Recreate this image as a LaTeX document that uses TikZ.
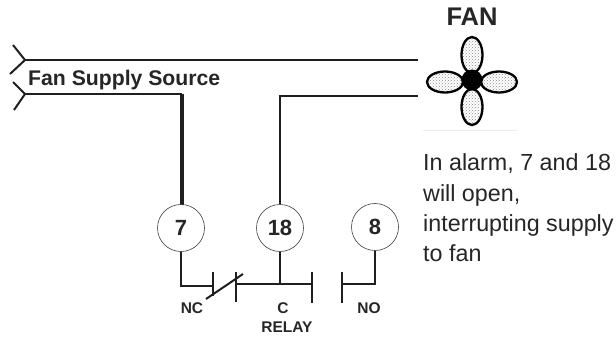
\documentclass[tikz,border=0pt]{standalone}
\usepackage{fontspec}
\setmainfont{Liberation Sans}
\usetikzlibrary{patterns}
\tikzset{
  wire/.style={line width=2pt,color=black!88},
  heavy/.style={line width=4pt,color=black!88},
  term/.style={circle,draw=black!75,line width=0.6pt,minimum size=47pt,inner sep=0pt,font=\bfseries\fontsize{22}{22}\selectfont,text=black!85},
  lab/.style={inner sep=0pt,font=\bfseries\fontsize{15.5}{15.5}\selectfont,text=black!85},
  petal/.style={draw=black,line width=2.3pt,pattern=crosshatch dots,pattern color=black!45},
  body/.style={inner sep=0pt,anchor=base west,font=\fontsize{23.3}{23.3}\selectfont,text=black!85}
}
\begin{document}
\begin{tikzpicture}[x=1pt,y=-1pt]
\useasboundingbox[fill=white] (0,0) rectangle (616,337);
% supply
\coordinate (a1) at (13,45); \coordinate (a2) at (25,60); \coordinate (a3) at (10,74);
\coordinate (a4) at (418,60);
\coordinate (b1) at (13,82); \coordinate (b2) at (25,94); \coordinate (b3) at (14,110);
\coordinate (b4) at (182,94); \coordinate (b5) at (182,205);
\draw[wire] (a1) -- (a2) -- (a3);
\draw[wire] (a2) -- (a4);
\draw[wire] (b1) -- (b2) -- (b3);
\draw[wire] (b2) -- (b4);
\draw[heavy] (b4) -- (b5);
\node[inner sep=0pt,anchor=base west,font=\bfseries\fontsize{21.2}{21.2}\selectfont,text=black!85] (src) at (28,85) {Fan Supply Source};
% terminals
\node[term] (t7) at (181,228) {7};
\node[term] (t18) at (280,228) {18};
\node[term] (t8) at (375,227) {8};
% wire to 18
\coordinate (c1) at (418,96); \coordinate (c2) at (280,96);
\draw[wire] (c1) -- (c2) -- (t18.north);
% relay
\coordinate (d1) at (181,286); \coordinate (d2) at (213,286);
\coordinate (e1) at (213,272); \coordinate (e2) at (213,296);
\coordinate (f1) at (236,272); \coordinate (f2) at (236,302);
\coordinate (s1) at (206,299); \coordinate (s2) at (243,274);
\coordinate (g1) at (236,284); \coordinate (g2) at (312,284); \coordinate (g3) at (280,284);
\coordinate (h1) at (312,272); \coordinate (h2) at (312,303);
\coordinate (i1) at (342,272); \coordinate (i2) at (342,303);
\coordinate (j1) at (342,284); \coordinate (j2) at (375,284);
\draw[wire] (t7.south) -- (d1) -- (d2);
\draw[wire] (e1) -- (e2);
\draw[wire] (f1) -- (f2);
\draw[wire] (s1) -- (s2);
\draw[wire] (g1) -- (g2);
\draw[wire] (t18.south) -- (g3);
\draw[wire] (h1) -- (h2);
\draw[wire] (i1) -- (i2);
\draw[wire] (j1) -- (j2) -- (t8.south);
\node[lab] (nc) at (192,308) {NC};
\node[lab] (c) at (283,308) {C};
\node[lab] (no) at (369,308) {NO};
\node[lab] (relay) at (287,327) {RELAY};
% fan
\node[inner sep=0pt,font=\bfseries\fontsize{25.5}{25.5}\selectfont,text=black!85] (fan) at (472,17) {FAN};
\draw[petal] (472,55) ellipse [x radius=10.5,y radius=18];
\draw[petal] (472,107) ellipse [x radius=10.5,y radius=18];
\draw[petal] (445,82) ellipse [x radius=18,y radius=10.5];
\draw[petal] (499,82) ellipse [x radius=18,y radius=10.5];
\fill[black] (472,80) circle [radius=10.5];
\draw[black!8,line width=0.8pt] (423,130) -- (517,130);
% note
\node[body] (n1) at (423,170) {In alarm, 7 and 18};
\node[body] (n2) at (423,201) {will open,};
\node[body] (n3) at (423,231) {interrupting supply};
\node[body] (n4) at (423,261) {to fan};
\end{tikzpicture}
\end{document}
